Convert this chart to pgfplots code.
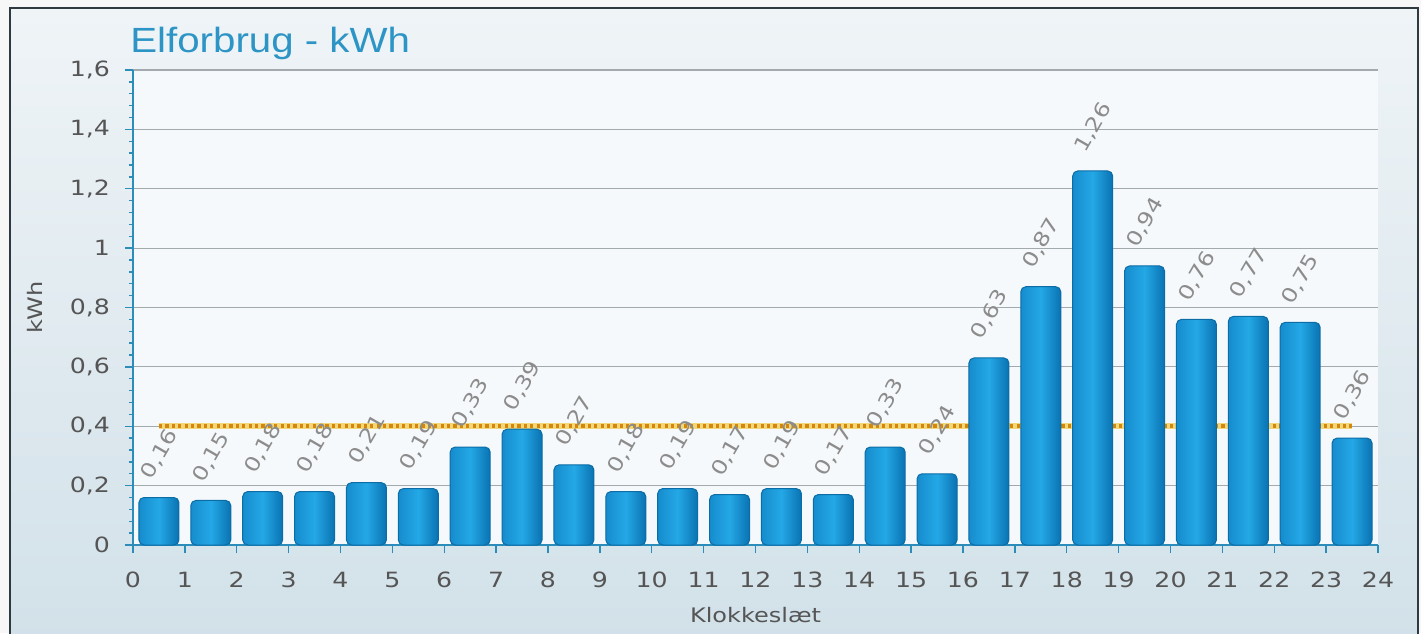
\documentclass[border=0pt]{standalone}
\usepackage{pgfplots}
\usepackage{pgfplotstable}
\pgfplotsset{compat=1.18}
\usepackage{fontspec}
\setmainfont{DejaVu Sans}
\newfontfamily\tickfont[FakeStretch=1.2]{DejaVu Sans}
\newfontfamily\titlefont[FakeStretch=1.15]{Liberation Sans}

\definecolor{framec}{HTML}{2F3A40}
\definecolor{bgtop}{HTML}{EFF4F7}
\definecolor{bgbot}{HTML}{D2E1E9}
\definecolor{plotbg}{HTML}{F6F9FB}
\definecolor{gridc}{HTML}{A2AAAE}
\definecolor{axisc}{HTML}{2C8DBA}
\definecolor{titlec}{HTML}{2D95C6}
\definecolor{ticklc}{HTML}{555555}
\definecolor{valc}{HTML}{8C8C8C}
\definecolor{barL}{HTML}{168CCD}
\definecolor{barM}{HTML}{24A8E6}
\definecolor{barR}{HTML}{0A72B2}
\definecolor{baredge}{HTML}{0B6CA6}
\definecolor{limy}{HTML}{F2D77A}
\definecolor{limo}{HTML}{D4870A}

% hourly consumption, kWh (hour h = bar between h and h+1)
\pgfplotstableread{
h kwh
0 0.16
1 0.15
2 0.18
3 0.18
4 0.21
5 0.19
6 0.33
7 0.39
8 0.27
9 0.18
10 0.19
11 0.17
12 0.19
13 0.17
14 0.33
15 0.24
16 0.63
17 0.87
18 1.26
19 0.94
20 0.76
21 0.77
22 0.75
23 0.36
}\elforbrug

\begin{document}
\begin{tikzpicture}[x=1pt,y=1pt]
\useasboundingbox (0,0) rectangle (710.5,316.5);
\fill[white!94!gray] (0,0) rectangle (710.5,316.5);
\shade[top color=bgtop, bottom color=bgbot] (5,-3) rectangle (709,312.5);
\draw[line width=1.3pt, framec] (5,-3) rectangle (709,312.5);
\node[anchor=base west, inner sep=0, text=titlec,
      font=\titlefont\fontsize{17.5}{20}\selectfont] at (65,290) {Elforbrug - kWh};

\begin{axis}[
    scale only axis,
    width=622.5pt, height=237.5pt,
    anchor=south west, at={(66.5pt,44pt)},
    xmin=0, xmax=24, ymin=0, ymax=1.6,
    bar width=0.77,
    xtick={0,1,...,24},
    ytick={0,0.2,0.4,0.6,0.8,1,1.2,1.4,1.6},
    minor y tick num=4,
    tick align=outside,
    major tick length=4pt,
    minor tick length=2pt,
    tick style={axisc, line width=0.7pt},
    axis x line*=bottom, axis y line*=left,
    axis line style={axisc, line width=1pt, -},
    axis background/.style={fill=plotbg},
    ymajorgrids,
    major grid style={gridc, line width=0.6pt},
    /pgf/number format/use comma,
    /pgf/number format/assume math mode=true,
    tick label style={font=\tickfont\fontsize{10.5}{12}\selectfont, text=ticklc},
    xticklabel style={yshift=-6pt},
    yticklabel style={xshift=-4pt},
    xlabel={Klokkeslæt},
    ylabel={kWh},
    label style={font=\tickfont\fontsize{10}{12}\selectfont, text=ticklc},
    xlabel style={at={(axis description cs:0.5,-0.147)}, anchor=center},
    ylabel style={at={(axis description cs:-0.079,0.5)}, anchor=center},
    barstyle/.style={ybar, bar shift=0pt, draw=baredge, line width=0.5pt,
        rounded corners=2.5pt,
        left color=barL, right color=barR, middle color=barM,
        nodes near coords={\pgfmathprintnumber[fixed,precision=2,use comma,assume math mode=true]{\pgfplotspointmeta}},
        every node near coord/.style={xshift=-7pt, yshift=9pt, rotate=60, anchor=west, inner sep=1pt,
            font=\tickfont\fontsize{10}{12}\selectfont, text=valc}},
]
% limit line at 0.4 kWh
\addplot[limy, line width=2.8pt, no marks] coordinates {(0.5,0.4) (23.5,0.4)};
\addplot[limo, line width=1.8pt, dash pattern=on 1.6pt off 1.6pt, no marks] coordinates {(0.5,0.4) (23.5,0.4)};

% one plot per bar, so that each bar gets its own shading
\pgfplotsinvokeforeach{0,...,23}{
  \addplot[barstyle, restrict x to domain=#1.4:#1.6]
      table[x expr=\thisrow{h}+0.5, y=kwh] {\elforbrug};
}
\end{axis}
\end{tikzpicture}
\end{document}
